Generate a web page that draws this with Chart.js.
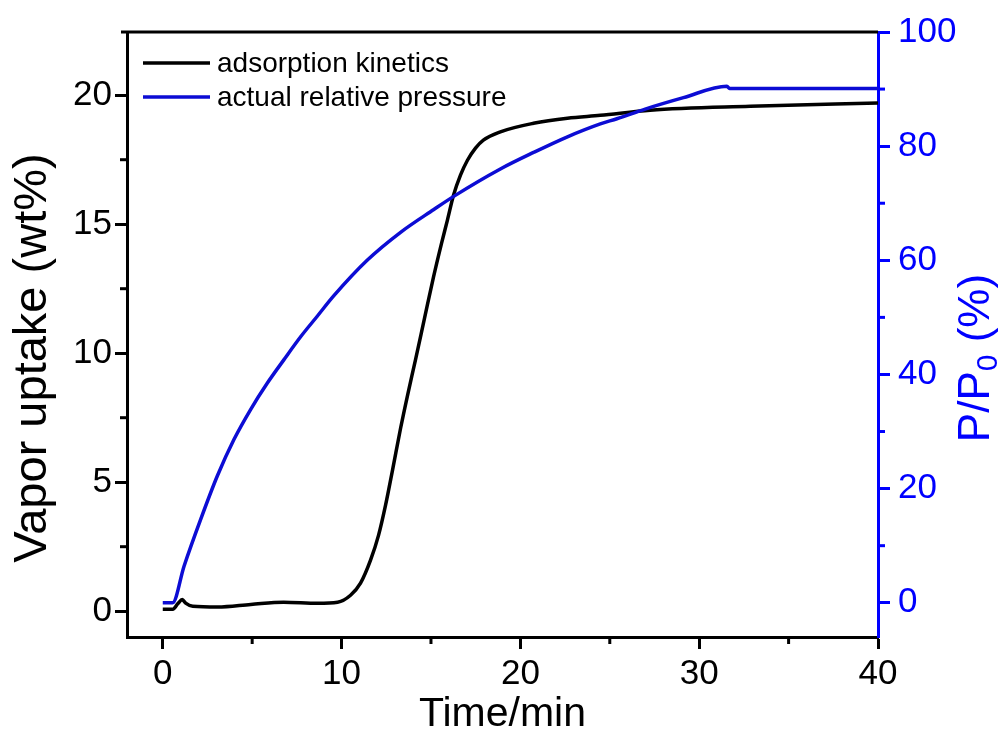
<!DOCTYPE html>
<html><head><meta charset="utf-8">
<script src="https://cdn.jsdelivr.net/npm/chart.js@4.4.0/dist/chart.umd.min.js"></script>
<style>html,body{margin:0;padding:0;background:#fff;}canvas{display:block;}</style>
</head><body>
<canvas id="c" width="1008" height="735"></canvas>
<script>
// ---- data ----
const kineticsTime   = [0, 0.56, 0.85, 1.09, 1.28, 1.68, 3.07, 4.92, 6.76, 8.66, 9.78, 10.50, 11.06, 11.62, 12.07, 12.46, 12.85, 13.30, 13.69, 14.13, 14.64, 15.14, 15.59, 15.92, 16.26, 16.65, 17.04, 17.49, 17.93, 18.88, 20.73, 22.63, 24.47, 27.26, 32.85, 40];
const kineticsUptake = [0.08, 0.08, 0.30, 0.45, 0.31, 0.19, 0.16, 0.26, 0.35, 0.31, 0.35, 0.62, 1.09, 1.98, 2.95, 4.11, 5.47, 7.09, 8.37, 9.73, 11.36, 12.95, 14.26, 15.16, 16.12, 16.90, 17.48, 17.95, 18.26, 18.58, 18.91, 19.11, 19.22, 19.42, 19.57, 19.70];
const pressureTime   = [0, 0.55, 1.19, 2.12, 3.05, 3.98, 4.92, 5.85, 6.78, 7.71, 8.64, 9.57, 11.43, 13.30, 15.16, 16.27, 18.88, 20.74, 22.60, 24.47, 25.40, 26.98, 29.12, 31.55, 31.70, 35, 40];
const pressureValue  = [0, 0, 6.4, 14.6, 22.2, 28.6, 33.9, 38.5, 42.6, 46.6, 50.2, 53.8, 60.0, 64.9, 68.9, 71.2, 76.0, 78.9, 81.6, 83.9, 84.8, 86.5, 88.5, 90.5, 90.1, 90.1, 90.1];
const seriesLabels = ['adsorption kinetics', 'actual relative pressure'];
const xTicks = [0, 10, 20, 30, 40];
const xMinorTicks = [5, 15, 25, 35];
const leftTicks = [0, 5, 10, 15, 20];
const leftMinorTicks = [2.5, 7.5, 12.5, 17.5];
const rightTicks = [0, 20, 40, 60, 80, 100];
const rightMinorTicks = [10, 30, 50, 70, 90];
const xTitle = 'Time/min';
const leftTitle = 'Vapor uptake (wt%)';
const rightTitleParts = ['P/P', '0', ' (%)'];

const FONT = '"Liberation Sans", Arial, sans-serif';
const BLUE_AXIS = '#0000ff';
const BLUE_LINE = '#0c0cd4';

const pts = (xs, ys) => xs.map((x, i) => ({x, y: ys[i]}));

const extras = {
  id: 'extras',
  afterDraw(chart) {
    const ctx = chart.ctx, a = chart.chartArea;
    const sx = chart.scales.x, sy = chart.scales.y, sr = chart.scales.y1;
    ctx.save();
    // top frame line
    ctx.lineWidth = 3; ctx.strokeStyle = '#000';
    ctx.beginPath(); ctx.moveTo(a.left - 6, a.top); ctx.lineTo(a.right, a.top); ctx.stroke();
    // minor ticks
    const seg = (x1, y1, x2, y2, c) => { ctx.strokeStyle = c; ctx.beginPath(); ctx.moveTo(x1, y1); ctx.lineTo(x2, y2); ctx.stroke(); };
    xMinorTicks.forEach(v => { const p = sx.getPixelForValue(v); seg(p, a.bottom, p, a.bottom + 7, '#000'); });
    leftMinorTicks.forEach(v => { const p = sy.getPixelForValue(v); seg(a.left, p, a.left - 7, p, '#000'); });
    rightMinorTicks.forEach(v => { const p = sr.getPixelForValue(v); seg(a.right, p, a.right + 7, p, BLUE_AXIS); });
    // legend
    const ds = chart.data.datasets;
    const rows = [{label: seriesLabels[0], color: ds[0].borderColor, y: 63}, {label: seriesLabels[1], color: ds[1].borderColor, y: 97}];
    ctx.font = '28px ' + FONT; ctx.textBaseline = 'middle'; ctx.textAlign = 'left';
    rows.forEach(r => {
      ctx.lineWidth = 3.5;
      seg(143, r.y, 210, r.y, r.color);
      ctx.fillStyle = '#000'; ctx.fillText(r.label, 217, r.y + 1);
    });
    // left title
    ctx.save();
    ctx.translate(33, 358); ctx.rotate(-Math.PI / 2);
    ctx.font = '47px ' + FONT; ctx.fillStyle = '#000'; ctx.textAlign = 'center'; ctx.textBaseline = 'middle';
    ctx.fillText(leftTitle, 0, 0);
    ctx.restore();
    // right title with subscript
    ctx.save();
    ctx.translate(977, 358); ctx.rotate(-Math.PI / 2);
    ctx.fillStyle = BLUE_AXIS; ctx.textBaseline = 'middle'; ctx.textAlign = 'left';
    ctx.font = '44px ' + FONT; const w1 = ctx.measureText(rightTitleParts[0]).width; const w3 = ctx.measureText(rightTitleParts[2]).width;
    ctx.font = '30px ' + FONT; const w2 = ctx.measureText(rightTitleParts[1]).width;
    let x = -(w1 + w2 + w3) / 2;
    ctx.font = '44px ' + FONT; ctx.fillText(rightTitleParts[0], x, 0); x += w1;
    ctx.font = '30px ' + FONT; ctx.fillText(rightTitleParts[1], x, 12); x += w2;
    ctx.font = '44px ' + FONT; ctx.fillText(rightTitleParts[2], x, 0);
    ctx.restore();
    ctx.restore();
  }
};

new Chart(document.getElementById('c'), {
  type: 'line',
  data: {
    datasets: [
      {label: seriesLabels[0], data: pts(kineticsTime, kineticsUptake), yAxisID: 'y', borderColor: '#000', borderWidth: 3.5, pointRadius: 0, cubicInterpolationMode: 'monotone', fill: false, order: 1},
      {label: seriesLabels[1], data: pts(pressureTime, pressureValue), yAxisID: 'y1', borderColor: BLUE_LINE, borderWidth: 3.5, pointRadius: 0, cubicInterpolationMode: 'monotone', fill: false, order: 0}
    ]
  },
  options: {
    responsive: false, animation: false, devicePixelRatio: 1,
    layout: {padding: {top: 32, left: 0, right: 0, bottom: 0}},
    plugins: {legend: {display: false}, tooltip: {enabled: false}},
    scales: {
      x: {
        type: 'linear', min: -2, max: 40,
        afterBuildTicks: s => { s.ticks = xTicks.map(v => ({value: v})); },
        afterFit: s => { s.height = 98; },
        border: {display: true, color: '#000', width: 3},
        grid: {drawOnChartArea: false, drawTicks: true, tickLength: 12, tickWidth: 3, tickColor: '#000'},
        ticks: {color: '#000', font: {family: FONT, size: 35}, padding: 4, maxRotation: 0},
        title: {display: true, text: xTitle, color: '#000', font: {family: FONT, size: 41, lineHeight: 1}, padding: {top: 0, bottom: 0}}
      },
      y: {
        type: 'linear', position: 'left', min: -1, max: 22.45,
        afterBuildTicks: s => { s.ticks = leftTicks.map(v => ({value: v})); },
        afterFit: s => { s.width = 127; },
        border: {display: true, color: '#000', width: 3},
        grid: {drawOnChartArea: false, drawTicks: true, tickLength: 12, tickWidth: 3, tickColor: '#000'},
        ticks: {color: '#000', font: {family: FONT, size: 35}, padding: 3}
      },
      y1: {
        type: 'linear', position: 'right', min: -6, max: 100,
        afterBuildTicks: s => { s.ticks = rightTicks.map(v => ({value: v})); },
        afterFit: s => { s.width = 130; },
        border: {display: true, color: BLUE_AXIS, width: 3},
        grid: {drawOnChartArea: false, drawTicks: true, tickLength: 12, tickWidth: 3, tickColor: BLUE_AXIS},
        ticks: {color: BLUE_AXIS, font: {family: FONT, size: 35}, padding: 8}
      }
    }
  },
  plugins: [extras]
});
</script>
</body></html>
